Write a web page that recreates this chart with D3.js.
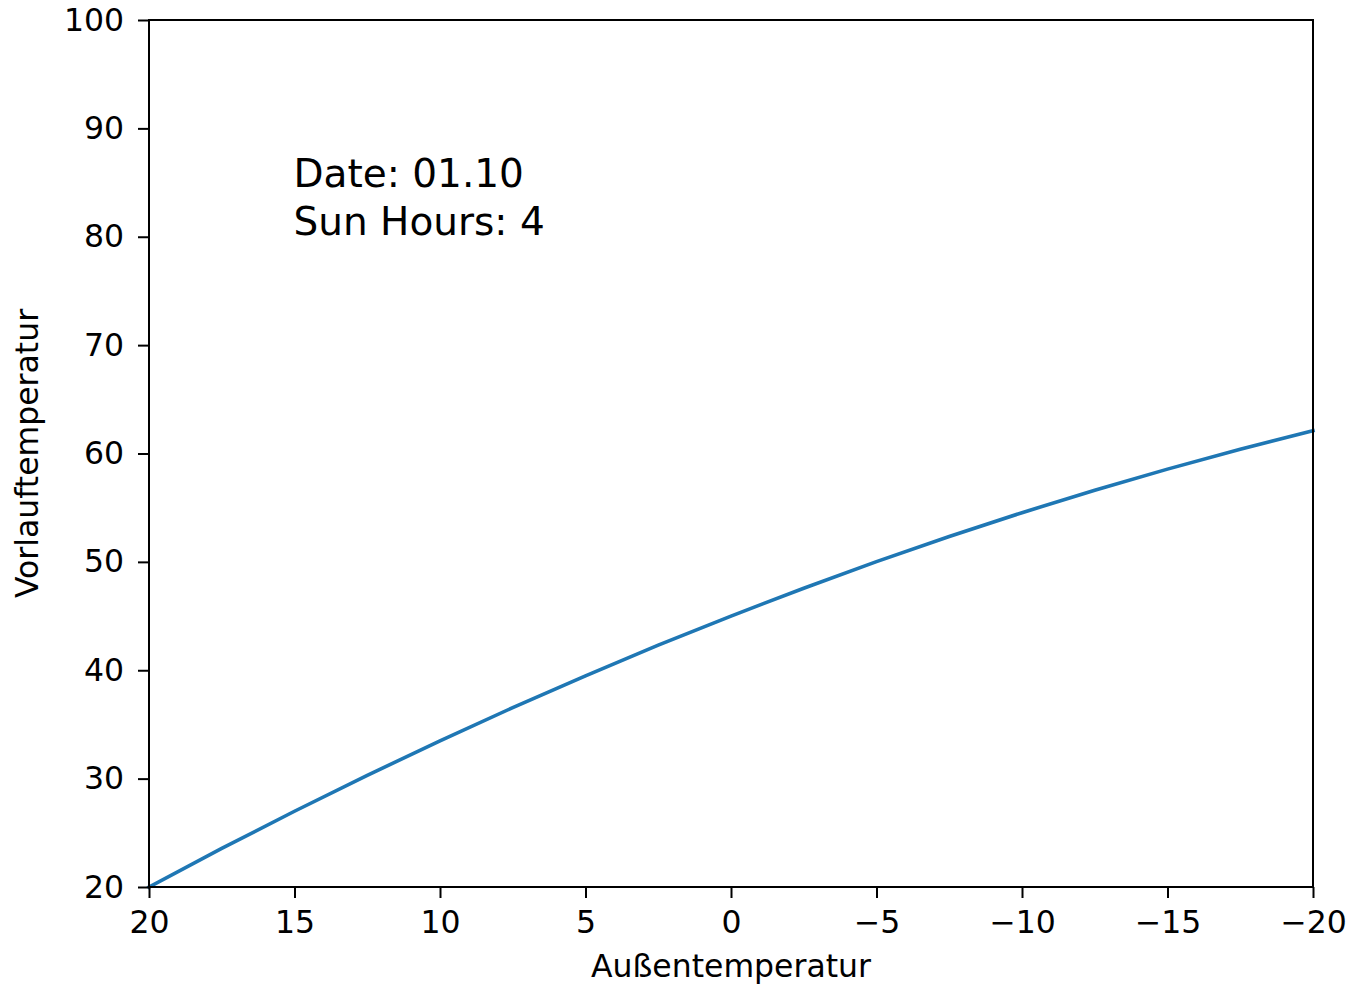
<!DOCTYPE html>
<html><head><meta charset="utf-8">
<script src="https://cdn.jsdelivr.net/npm/d3@7"></script>
<style>
html,body{margin:0;padding:0;background:#fff;}
svg text{font-family:"DejaVu Sans",sans-serif;fill:#000;}
</style></head>
<body>
<script>
// Data
const outsideTemp = [20, 17.5, 15, 12.5, 10, 7.5, 5, 2.5, 0, -2.5, -5, -7.5, -10, -12.5, -15, -17.5, -20];
const flowTemp    = [20, 23.56, 26.99, 30.3, 33.49, 36.55, 39.49, 42.31, 45.0, 47.57, 50.02, 52.34, 54.54, 56.61, 58.56, 60.39, 62.1];
const xTicks = [20, 15, 10, 5, 0, -5, -10, -15, -20];
const yTicks = [20, 30, 40, 50, 60, 70, 80, 90, 100];
const annotationLines = ["Date: 01.10", "Sun Hours: 4"];
const xLabel = "Außentemperatur";
const yLabel = "Vorlauftemperatur";

const W = 1351, H = 987;
const m = {left:149, right:1351-1313, top:20, bottom:987-887};
const svg = d3.select("body").append("svg").attr("width", W).attr("height", H);

const x = d3.scaleLinear().domain([20, -20]).range([m.left, W - m.right]);
const y = d3.scaleLinear().domain([20, 100]).range([H - m.bottom, m.top]);

const fontSize = 31.5;
const tickLen = 11;

// line
const line = d3.line().x((d,i)=>x(outsideTemp[i])).y(d=>y(d));
svg.append("path").datum(flowTemp)
  .attr("d", line).attr("fill","none")
  .attr("stroke","#1f77b4").attr("stroke-width",3.6)
  .attr("stroke-linecap","square");

// axes
const xAxis = svg.append("g").attr("transform",`translate(0,${H-m.bottom})`)
  .call(d3.axisBottom(x).tickValues(xTicks).tickSize(tickLen).tickPadding(13).tickSizeOuter(0));
const yAxis = svg.append("g").attr("transform",`translate(${m.left},0)`)
  .call(d3.axisLeft(y).tickValues(yTicks).tickSize(tickLen).tickPadding(14).tickSizeOuter(0));
[xAxis,yAxis].forEach(g=>{
  g.select(".domain").remove();
  g.selectAll(".tick line").attr("stroke","#000").attr("stroke-width",2);
  g.selectAll(".tick text").attr("font-size",fontSize).attr("font-family","DejaVu Sans").attr("fill","#000");
});
xAxis.selectAll(".tick text").attr("dy",null).attr("y",null)
  .attr("transform",null).attr("dominant-baseline",null)
  .each(function(){ d3.select(this).attr("y", 933-887).attr("dy",0); });

// frame
svg.append("rect").attr("x",m.left).attr("y",m.top)
  .attr("width",W-m.right-m.left).attr("height",H-m.bottom-m.top)
  .attr("fill","none").attr("stroke","#000").attr("stroke-width",2);

// axis labels
svg.append("text").attr("x",(m.left+W-m.right)/2).attr("y",977)
  .attr("text-anchor","middle").attr("font-size",fontSize).text(xLabel);
svg.append("text").attr("transform",`translate(38,${(m.top+H-m.bottom)/2}) rotate(-90)`)
  .attr("text-anchor","middle").attr("font-size",fontSize).text(yLabel);

// annotation
const ann = svg.append("text").attr("x",x(15)-1).attr("y",187).attr("font-size",39);
annotationLines.forEach((t,i)=>ann.append("tspan").attr("x",x(15)-1).attr("dy", i===0?0:48).text(t));
</script>
</body></html>
